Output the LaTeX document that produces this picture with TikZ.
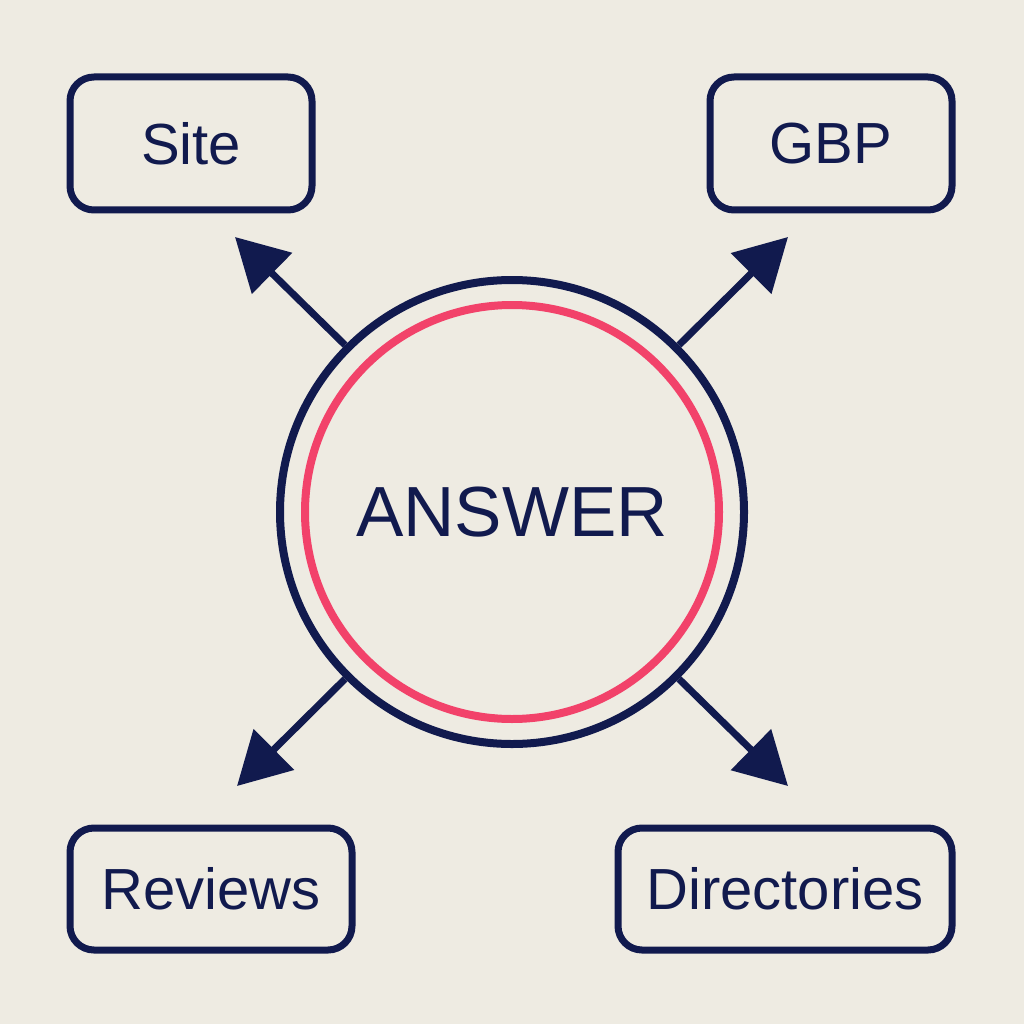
\documentclass[tikz,border=0pt]{standalone}
\usepackage{fontspec}
\setmainfont{Liberation Sans}
\usetikzlibrary{arrows.meta}
\definecolor{bg}{HTML}{EEEBE2}
\definecolor{navy}{HTML}{111A4E}
\definecolor{pinkc}{HTML}{F2426A}
\begin{document}
\begin{tikzpicture}[x=1pt,y=-1pt,
 box/.style={draw=navy,line width=7pt,rounded corners=24pt,text=navy,font=\fontsize{58}{70}\selectfont,inner sep=0pt},
 arr/.style={draw=navy,line width=7pt,-{Triangle[length=52pt,width=56pt]}}]
\fill[bg] (0,0) rectangle (1024,1024);
\useasboundingbox (0,0) rectangle (1024,1024);
\node[box,minimum width=242pt,minimum height=133pt] (site) at (191,143.5) {Site};
\node[box,minimum width=242pt,minimum height=133pt] (gbp) at (831,143.5) {GBP};
\node[box,minimum width=282pt,minimum height=122pt] (rev) at (211,889) {Reviews};
\node[box,minimum width=334pt,minimum height=122pt] (dir) at (785,889) {Directories};
\node[circle,draw=navy,line width=8pt,minimum size=464pt,inner sep=0pt] (ans) at (512,512) {};
\node[circle,draw=pinkc,line width=8pt,minimum size=414pt,inner sep=0pt,text=navy,font=\fontsize{71}{85}\selectfont] (inner) at (512,512) {ANSWER};
\coordinate (t1) at (235,237);
\coordinate (t2) at (788,237);
\coordinate (t3) at (237,786);
\coordinate (t4) at (788,786);
\draw[arr] (ans.135) -- (t1);
\draw[arr] (ans.45) -- (t2);
\draw[arr] (ans.225) -- (t3);
\draw[arr] (ans.315) -- (t4);
\end{tikzpicture}
\end{document}
